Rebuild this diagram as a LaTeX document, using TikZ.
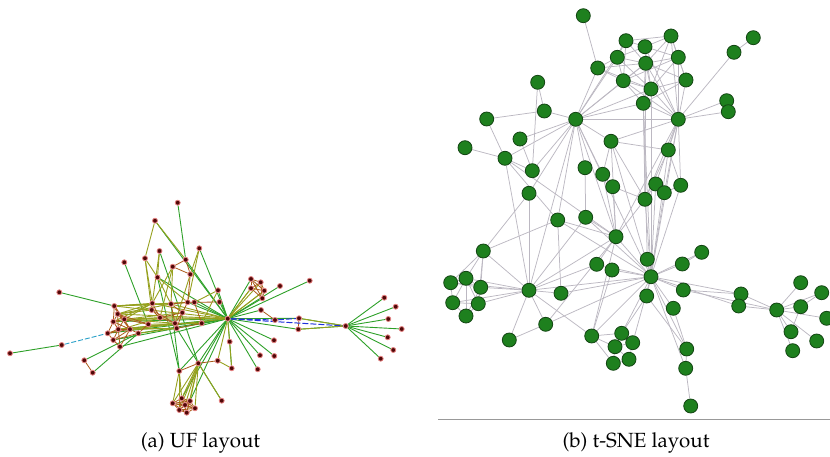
\documentclass[tikz,border=0pt]{standalone}
\usepackage[T1]{fontenc}
\usepackage{mathpazo}
\usetikzlibrary{backgrounds}
\definecolor{ug}{RGB}{45,160,40}
\definecolor{uy}{RGB}{150,160,30}
\definecolor{uo}{RGB}{170,90,25}
\definecolor{ub}{RGB}{30,50,220}
\definecolor{uc}{RGB}{40,160,200}
\definecolor{udotfill}{RGB}{80,8,8}
\definecolor{udotdraw}{RGB}{230,130,130}
\definecolor{tfill}{RGB}{30,128,30}
\definecolor{tdraw}{RGB}{20,70,20}
\definecolor{tedge}{RGB}{188,184,194}
\tikzset{
  udot/.style={circle,inner sep=0pt,minimum size=5pt,fill=udotfill,draw=udotdraw,line width=0.8pt},
  tdot/.style={circle,inner sep=0pt,minimum size=14pt,fill=tfill,draw=tdraw,line width=0.8pt},
  eg/.style={ug,line width=0.9pt},
  ey/.style={uy,line width=0.9pt},
  eo/.style={uo,line width=0.8pt},
  eb/.style={ub,line width=1pt,dash pattern=on 6pt off 2pt},
  ec/.style={uc,line width=0.9pt,dash pattern=on 5pt off 2pt},
  te/.style={tedge,line width=0.75pt},
  captext/.style={font=\fontsize{20.5}{24}\selectfont,inner sep=0pt}
}
\begin{document}
\begin{tikzpicture}[x=1pt,y=-1pt]
\useasboundingbox (0,0) rectangle (830,457);
% ---------------- panel (a) nodes
\foreach \n/\x/\y in {p1/177.7/202.7,p2/155/220.7,p3/159.5/251,p4/199.3/248.3,p5/145/258.3,p6/124.3/262.3,p7/185.7/259.7,p8/172.7/266.7,p9/190.3/274.3,p10/157.5/277.3,p11/218/290.3,p12/219.5/302,p13/59.3/292.3,UH/227.7/318.7,
L1/114.3/306,L2/152.3/303.3,L3/171/304,L4/187.7/302.3,L5/194.3/302.3,L6/117.7/314,L7/113.3/321.7,L8/124.3/319.3,L9/118.3/329.3,L10/107.7/333.3,L11/130/329.3,L12/138.3/333.3,L13/148.3/324.3,L14/160/317.7,L15/175/323.3,L16/176.7/328.3,L17/182.3/312.7,L18/201.7/323.3,L19/113.3/340,L20/120/346.7,L21/151.7/310,
r1/251/279,r2/260.7/282.3,r3/264.3/290.7,r4/251/288.3,r5/262.3/298.3,r6/280/286,r7/309.7/280.7,r8/261/310,r9/275/320,r10/299/318.3,r11/298.3/329.3,UR/345.7/326,
f1/384.3/297.7,f2/395.7/306.7,f3/388.3/319,f4/401.7/329,f5/387.7/337.3,f6/393.3/350,f7/380.7/358.7,
s1/229.7/341.7,s2/274/340.3,s3/260/355.3,s4/274.3/356,s5/257.7/369.3,s6/217.7/360.7,s7/231.7/368.3,s8/179.3/371,s9/198.3/363.3,s10/221.7/400.7,
k1/172.7/403.3,k2/181.7/398.3,k3/190/401,k4/195/408.3,k5/186.7/412.7,k6/179.3/410,k7/185/405,
w1/10/353.3,w2/61.7/345,w3/84.3/360.3,w4/92.7/372.7}
  \node[udot] (\n) at (\x,\y) {};
\begin{scope}[on background layer]
% green edges
\foreach \a/\b in {p1/p7,p7/UH,p2/UH,p6/L13,p13/L1,w1/w2,w3/L12,w4/L12,
UH/p11,UH/p12,UH/r6,UH/r7,UH/r8,UH/s1,UH/s2,UH/s3,UH/s4,UH/s5,UH/s8,UH/s9,UH/L12,UH/L18,UH/L19,UH/L20,UH/L10,UH/p10,UH/k2,UH/k3,UH/L5,UH/L4,UH/p4,UH/r1,UH/r5,
UR/f1,UR/f2,UR/f3,UR/f4,UR/f5,UR/f6,UR/f7,p10/s8,L3/s8,L16/s10,s1/s7,UR/r10,UR/r11,UH/r10,UH/r11,L7/UH,L9/UH,p3/s9}
  \draw[eg] (\a) -- (\b);
% olive edges
\foreach \a/\b in {p2/p5,p2/p7,p3/p10,p3/L2,p5/p10,p5/L2,p5/L21,p4/p9,p4/L4,p8/L2,p8/L3,p8/L14,p9/L15,p10/L4,p10/L3,p11/L5,p11/L18,
r2/UH,r3/UH,r4/UH,L1/L2,L1/L3,L1/L4,L1/L5,L6/L2,L6/L3,L7/L14,L8/L15,L8/L17,L9/L15,L9/L16,L11/L15,L11/L16,L12/L16,L13/L18,L10/L14,L6/L21,L8/L2,L7/L2,L8/L14,
s6/s7,s9/s10,k1/s8,k2/s8,k6/s8,k7/s9,k3/s9,k2/s9,k4/s9,k5/s9,k1/s9,k6/s9,
UH/L1,UH/L6,UH/L2,UH/L3,UH/L8,UH/L11,UH/L14,UH/s6,UH/s7,UH/r3,UH/r4,UR/r10,UR/r11}
  \draw[ey] (\a) -- (\b);
% brown edges
\foreach \a/\b in {r1/r2,r1/r3,r1/r4,r1/r5,r2/r3,r2/r4,r2/r5,r3/r4,r3/r5,r4/r5,r8/r9,r10/r11,
k1/k2,k1/k3,k1/k4,k1/k5,k1/k6,k1/k7,k2/k3,k2/k4,k2/k5,k2/k6,k2/k7,k3/k4,k3/k5,k3/k6,k3/k7,k4/k5,k4/k6,k4/k7,k5/k6,k5/k7,k6/k7,
s8/s9,s9/s6,w3/w4,
L1/L6,L1/L7,L1/L8,L6/L7,L6/L8,L6/L9,L7/L8,L7/L9,L7/L10,L8/L9,L8/L11,L9/L10,L9/L11,L10/L19,L9/L19,L19/L20,L11/L12,L12/L13,L8/L13,L6/L11,L7/L11,L9/L20,L11/L20,L12/L19,L11/L19,L10/L11,L6/L13,L1/L11,
L2/L21,L21/L14,L14/L15,L15/L16,L16/L17,L17/L3,L3/L4,L4/L17,L14/L17,L2/L14,L15/L17,L16/L18,L5/L18,L4/L5,p7/p8,p8/p9,p7/p9,p9/L4,L3/L15,L21/L15,p12/L5}
  \draw[eo] (\a) -- (\b);
% blue edges
\draw[eb] (UH) -- (UR);
\draw[eb] (UH) -- (r9);
\draw[eb] (r9) -- (r10);
\draw[ec] (w2) -- (L10);
\end{scope}
% ---------------- panel (b)
\draw[gray!80,line width=0.9pt] (438,419) -- (830,419);
\foreach \n/\x/\y in {tA/583.3/15.7,tB/626/40.7,tC/645/46.7,tD/671/36,tE/753.3/37.7,tF/734/52.3,tG/617.3/57.3,tH/645.7/63.3,tI/678.3/57.3,tJ/597.7/68,tK/623.3/80.7,tL/651/89,tM/686/80,tN/537.7/82.3,tO/643.3/103.3,tP/726.7/100.7,tQ/728.3/111.7,tR/544.3/111,tS/575.7/119.3,tT/678.3/119.3,tU/486.7/119,tV/520/139,tW/465/147.7,tX/611/141.3,tY/668.3/150,tZ/505/158.3,
ta1/532.3/170.7,ta2/585/167.7,ta3/602.7/174.3,ta4/612.7/186.7,ta5/655.7/184,ta6/664.3/192.7,ta7/680.7/185.3,ta8/645/199.3,ta9/529/193.3,
tb1/557.7/220,tb2/585.7/217.3,tb3/616/236.7,tb4/483.3/251,tb5/701.7/252.3,tb6/647.3/259.3,tb7/682.3/264,tb8/596.7/264.3,tb9/612/270,
tc1/651/276.7,tc2/466/278.3,tc3/450.7/282.7,tc4/480.7/287.3,tc5/529/290.3,tc6/561/293.3,tc7/683.3/290,tc8/646.7/296,tc9/800.7/282.7,
td1/821.7/292.7,td2/741/294,td3/738.7/306,td4/776.7/310,td5/800.7/306.7,td6/826.7/318.3,td7/452.7/302.7,td8/478.3/303.7,td9/466/316,
te1/673.3/308.3,te2/545.7/324.3,te3/509.3/340,te4/591.7/336,te5/621.7/333.3,te6/615/346.7,te7/632.7/342.7,te8/791/331.7,te9/816.7/341,
tf1/792.7/350.7,tf2/613.3/363.3,tf3/629/359.3,tf4/686.7/349,tf5/685.7/368.3,tf6/690.7/406}
  \node[tdot] (\n) at (\x,\y) {};
\begin{scope}[on background layer]
\foreach \a/\b in {tA/tJ,
tB/tC,tB/tG,tB/tH,tB/tD,tB/tK,tC/tD,tC/tH,tC/tG,tC/tI,tC/tL,tD/tI,tD/tH,tD/tM,tD/tL,tG/tH,tG/tJ,tG/tK,tG/tL,tH/tI,tH/tK,tH/tL,tH/tM,tI/tL,tI/tM,tJ/tK,tJ/tL,tJ/tH,tK/tL,tK/tO,tL/tM,tL/tO,tH/tO,tM/tO,tI/tK,
tT/tM,tT/tI,tT/tD,tT/tL,tT/tO,tT/tH,tT/tK,tT/tC,tT/tP,tT/tQ,tT/tF,tF/tE,tT/tY,tT/ta5,tT/ta7,tT/ta6,tT/tc1,tT/tb3,tT/ta8,tT/tX,tT/tS,
tS/tJ,tS/tK,tS/tG,tS/tL,tS/tO,tS/tH,tS/tB,tS/tR,tS/tV,tS/tX,tS/ta2,tS/ta1,tS/tb1,tS/tc5,tS/tb3,tS/tc1,tS/ta9,tS/tZ,tS/ta3,
tN/ta1,tN/tR,tR/tU,tU/tZ,tW/tZ,tV/ta1,tZ/ta1,tZ/tc5,tZ/tb1,tZ/tb3,
tX/tY,tX/tc1,tX/tb3,tX/ta8,tX/ta3,tO/tc1,tO/ta8,tO/tb6,tL/tc1,tH/ta8,
ta2/tb2,ta3/ta4,ta4/tb3,ta3/tb3,ta5/ta6,ta6/ta7,ta5/ta8,ta8/tb3,ta8/tc1,ta7/tc1,ta6/tc1,ta5/tc1,ta4/ta8,tY/tc1,tY/ta8,ta7/tY,
tb1/tb3,tb1/tc1,tb2/tb3,tb3/tc1,tb3/tc5,tb3/tb8,tb6/tc1,tb7/tc1,tb5/tb7,tb9/tc1,tb8/tc1,tb2/tc1,tb1/tc6,
tb4/tc5,tb4/tc2,tb4/tc4,tb4/tc3,tb4/td8,tb4/ta9,tb4/tb1,
tc2/tc3,tc2/tc4,tc2/td7,tc2/td8,tc3/td7,tc3/tc4,tc4/td8,td7/td8,td7/td9,td8/td9,tc4/tc5,td8/tc5,tc2/tc5,td7/tc5,tc3/tc5,tc2/td9,tc4/td9,
tc5/tc6,tc5/tc1,tc5/te2,tc5/te3,tc5/te4,tc5/tb2,tc5/ta9,tc5/tb8,
tc6/tc1,te2/te3,te2/tc1,te2/tb3,
te4/te5,te4/te6,te4/tf2,te5/te6,te5/te7,te6/te7,te6/tf2,te7/tf3,tf2/tf3,te5/tc1,te7/tc1,te4/tc1,te4/tb9,te6/tf3,te4/tb3,
tc1/tc7,tc1/tc8,tc1/te1,tc1/tf4,tc1/td2,tc1/td3,tc1/tb5,tc1/tf5,
tc7/td2,td2/td3,td2/td4,td3/td4,tc7/td4,td4/tc9,td4/td1,td4/td5,td4/td6,td4/te8,td4/tf1,td4/te9,td5/td1,te8/td5,
te1/tf4,tf4/tf5,tf5/tf6,tc8/tf4,tc8/te5}
  \draw[te] (\a) -- (\b);
\end{scope}
% captions
\node[captext] (capA) at (200.5,443) {(a) UF layout};
\node[captext] (capB) at (636,443) {(b) t-SNE layout};
\end{tikzpicture}
\end{document}
